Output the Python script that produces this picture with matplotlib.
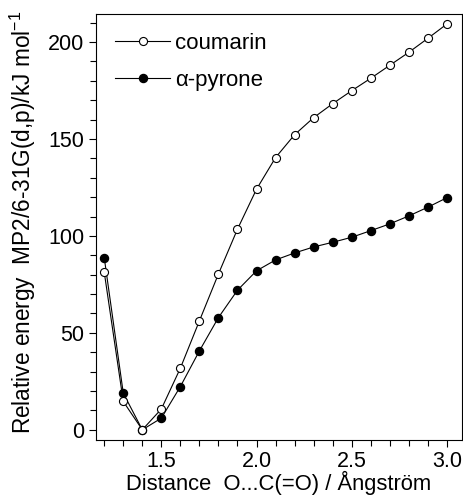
import matplotlib
matplotlib.use("Agg")
import matplotlib.pyplot as plt
from matplotlib.ticker import MultipleLocator

plt.rcParams['font.family'] = ['Liberation Sans', 'DejaVu Sans']

distance = [1.2, 1.3, 1.4, 1.5, 1.6, 1.7, 1.8, 1.9, 2.0, 2.1,
            2.2, 2.3, 2.4, 2.5, 2.6, 2.7, 2.8, 2.9, 3.0]
coumarin = [81.3, 14.6, 0.0, 10.7, 31.8, 56.2, 80.4, 103.5, 124.1, 140.4,
            152.2, 161.0, 168.2, 174.9, 181.3, 188.0, 194.7, 201.9, 209.3]
pyrone = [88.8, 18.9, 0.0, 6.0, 22.3, 40.7, 57.9, 72.0, 82.0, 87.6,
          91.2, 94.3, 96.7, 99.3, 102.7, 106.2, 110.3, 114.8, 119.7]

fig = plt.figure(figsize=(4.64, 4.97), dpi=100)
ax = fig.add_axes([0.207, 0.115, 0.789, 0.857])

ax.plot(distance, pyrone, color='black', lw=0.8, marker='o', ms=5.8,
        mfc='black', mec='black', label='α-pyrone', zorder=2)
ax.plot(distance, coumarin, color='black', lw=0.8, marker='o', ms=5.8,
        mfc='white', mec='black', mew=0.8, label='coumarin', zorder=3)

ax.set_xlim(1.157, 3.08)
ax.set_ylim(-5.2, 214.5)
ax.xaxis.set_major_locator(MultipleLocator(0.5))
ax.xaxis.set_minor_locator(MultipleLocator(0.1))
ax.yaxis.set_major_locator(MultipleLocator(50))
ax.yaxis.set_minor_locator(MultipleLocator(10))
ax.set_xticks([1.5, 2.0, 2.5, 3.0])
ax.set_xticklabels(['1.5', '2.0', '2.5', '3.0'])
ax.tick_params(which='both', direction='out', labelsize=15.5, width=0.8)
ax.tick_params(which='major', length=5)
ax.tick_params(which='minor', length=4)
ax.tick_params(axis='x', pad=3)

for s in ax.spines.values():
    s.set_linewidth(0.8)

ax.set_xlabel('Distance  O...C(=O) / Ångström', fontsize=15.8, labelpad=-1)
ax.set_ylabel('Relative energy  MP2/6-31G(d,p)/kJ mol$^{\\mathregular{-1}}$',
              fontsize=16.3)
ax.yaxis.set_label_coords(-0.158, 0.51)

handles, labels = ax.get_legend_handles_labels()
ax.legend(handles[::-1], labels[::-1], loc='upper left', frameon=False,
          fontsize=16, handlelength=2.5, handletextpad=0.2,
          borderaxespad=0.35, labelspacing=0.72, borderpad=0.5)

fig.savefig('out.png', dpi=100)
